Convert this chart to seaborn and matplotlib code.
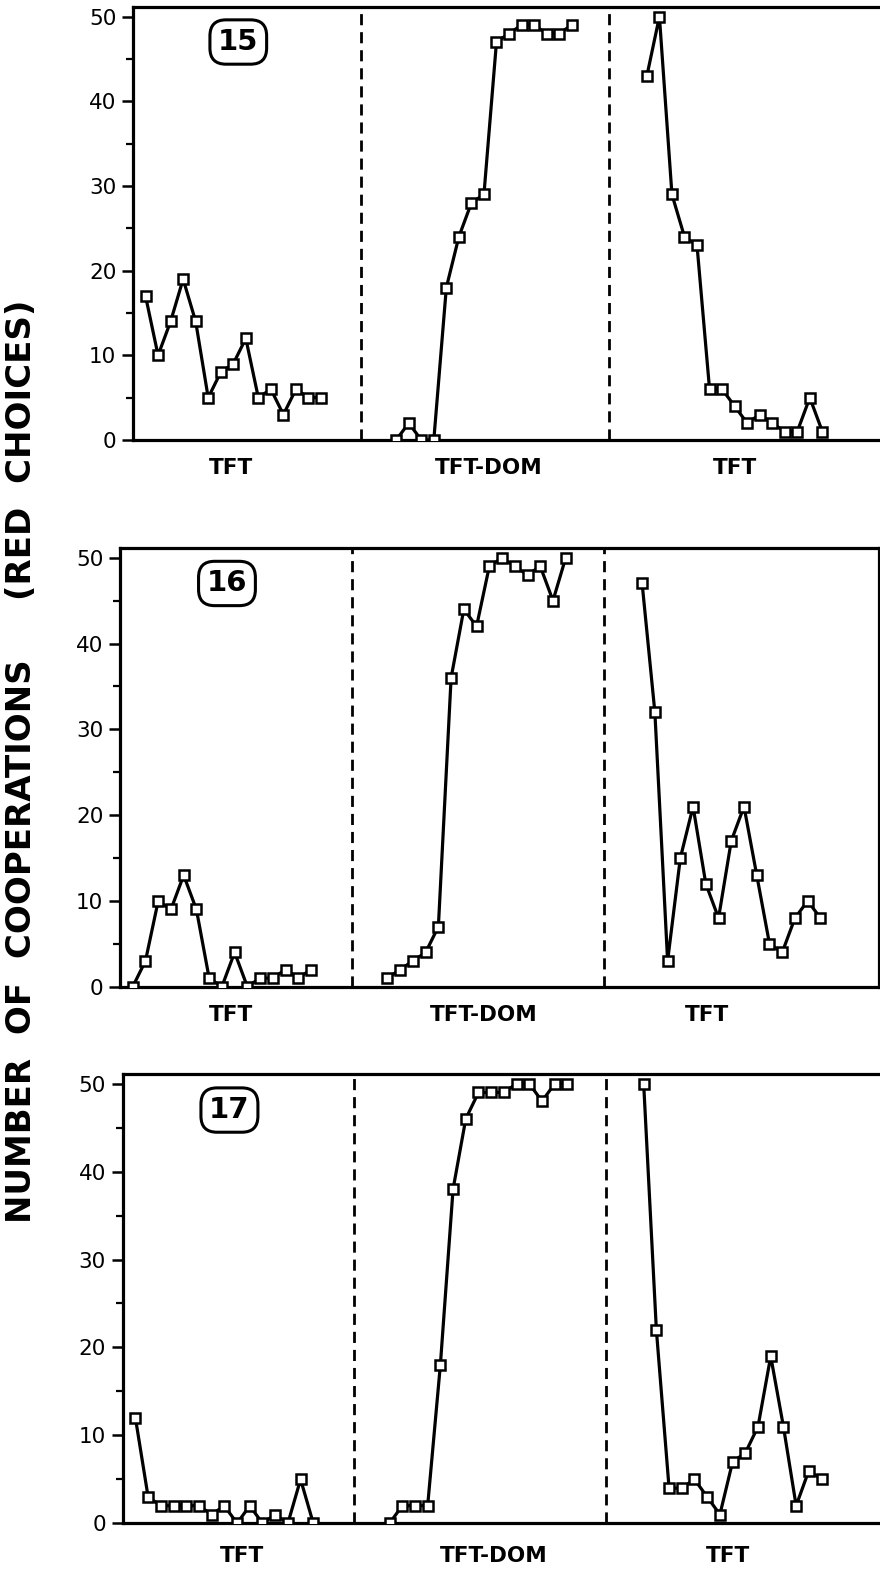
import numpy as np
import pandas as pd
import matplotlib
matplotlib.use("Agg")
import matplotlib.pyplot as plt
from matplotlib.ticker import MultipleLocator
import seaborn as sns

# ---------------- data ----------------
segment_names = ["TFT", "TFT-DOM", "TFT"]
trials_seg1 = list(range(1, 16))
trials_seg2 = list(range(21, 36))
trials_seg3 = list(range(41, 56))

panel_ids = ["15", "16", "17"]

p15_tft1 = [17, 10, 14, 19, 14, 5, 8, 9, 12, 5, 6, 3, 6, 5, 5]
p15_dom = [0, 2, 0, 0, 18, 24, 28, 29, 47, 48, 49, 49, 48, 48, 49]
p15_tft2 = [43, 50, 29, 24, 23, 6, 6, 4, 2, 3, 2, 1, 1, 5, 1]

p16_tft1 = [0, 3, 10, 9, 13, 9, 1, 0, 4, 0, 1, 1, 2, 1, 2]
p16_dom = [1, 2, 3, 4, 7, 36, 44, 42, 49, 50, 49, 48, 49, 45, 50]
p16_tft2 = [47, 32, 3, 15, 21, 12, 8, 17, 21, 13, 5, 4, 8, 10, 8]

p17_tft1 = [12, 3, 2, 2, 2, 2, 1, 2, 0, 2, 0, 1, 0, 5, 0]
p17_dom = [0, 2, 2, 2, 18, 38, 46, 49, 49, 49, 50, 50, 48, 50, 50]
p17_tft2 = [50, 22, 4, 4, 5, 3, 1, 7, 8, 11, 19, 11, 2, 6, 5]

y_ticks = [0, 10, 20, 30, 40, 50]
y_label = "NUMBER  OF  COOPERATIONS     (RED  CHOICES)"

panel_series = {
    "15": [p15_tft1, p15_dom, p15_tft2],
    "16": [p16_tft1, p16_dom, p16_tft2],
    "17": [p17_tft1, p17_dom, p17_tft2],
}
seg_trials = [trials_seg1, trials_seg2, trials_seg3]

rows = []
for pid in panel_ids:
    for s, (tr, vals) in enumerate(zip(seg_trials, panel_series[pid])):
        for t, v in zip(tr, vals):
            rows.append({"panel": pid, "seg": s, "trial": t, "value": v})
df = pd.DataFrame(rows)

# ---------------- layout (pixels) ----------------
W, H = 880, 1586
boxes = {
    "15": (133, 880, 440, 7.3),
    "16": (120, 879, 986.7, 548.3),
    "17": (122.7, 880, 1523.3, 1074),
}
label_x = {
    "15": [7.8, 28.4, 48.0],
    "16": [8.7, 28.6, 46.1],
    "17": [9.4, 29.2, 47.6],
}
label_pad = {"15": 13, "16": 13, "17": 16}
show_right = {"15": False, "16": True, "17": False}
dash_pos = [18.2, 38.0]

sns.set_style("ticks")
plt.rcParams["font.family"] = ["DejaVu Sans"]
plt.rcParams["text.color"] = "black"
plt.rcParams["axes.labelcolor"] = "black"
plt.rcParams["xtick.color"] = "black"
plt.rcParams["ytick.color"] = "black"

fig = plt.figure(figsize=(W / 100, H / 100), dpi=100)

for pid in panel_ids:
    l, r, b, t = boxes[pid]
    ax = fig.add_axes([l / W, 1 - b / H, (r - l) / W, (b - t) / H])
    sub = df[df["panel"] == pid]
    sns.lineplot(data=sub, x="trial", y="value", units="seg", estimator=None,
                 ax=ax, color="black", linewidth=2.3, marker="s",
                 markersize=7.5, markerfacecolor="white",
                 markeredgecolor="black", markeredgewidth=1.8,
                 legend=False, zorder=3)
    ax.set_xlim(0, 59.6)
    ax.set_ylim(0, 51.1)
    for d in dash_pos:
        ax.axvline(d, color="black", lw=2.0, ls=(0, (4, 2.5)), zorder=2)

    ax.set_yticks(y_ticks)
    ax.yaxis.set_minor_locator(MultipleLocator(5))
    ax.tick_params(axis="y", which="major", direction="out", length=8,
                   width=1.8, labelsize=15.5, pad=4, colors="black")
    ax.tick_params(axis="y", which="minor", direction="out", length=5,
                   width=1.6, colors="black")
    ax.set_xticks(label_x[pid])
    ax.set_xticklabels(segment_names, fontsize=15.5, fontweight="bold",
                       color="black")
    ax.tick_params(axis="x", length=0, pad=label_pad[pid])
    ax.set_xlabel("")
    ax.set_ylabel("")

    for side in ["left", "bottom", "top", "right"]:
        ax.spines[side].set_linewidth(2.3)
        ax.spines[side].set_color("black")
    ax.spines["right"].set_visible(show_right[pid])

    ax.text(8.4, 47, pid, ha="center", va="center", fontsize=21,
            fontweight="bold", color="black", zorder=5,
            bbox=dict(boxstyle="round,pad=0.28,rounding_size=0.55",
                      fc="white", ec="black", lw=2.2))

fig.text(22 / W, 1 - 761 / H, y_label, rotation=90, ha="center",
         va="center", fontsize=24.5, fontweight="bold", color="black")

fig.savefig("out.png", dpi=100, facecolor="white")
